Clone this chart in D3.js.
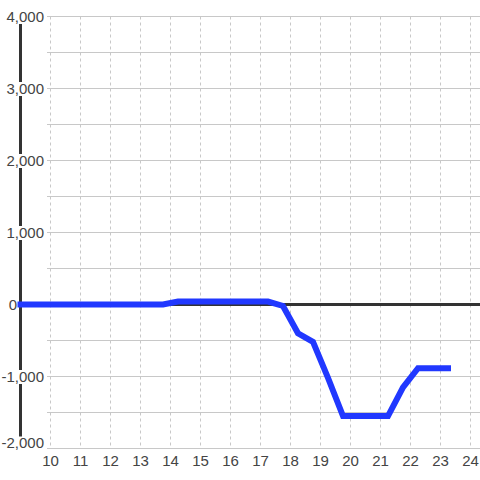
<!DOCTYPE html>
<html>
<head>
<meta charset="utf-8">
<script src="https://cdn.jsdelivr.net/npm/d3@7"></script>
<style>
  body { margin: 0; background: #fff; }
  svg { display: block; }
</style>
</head>
<body>
<svg id="chart" width="480" height="480"></svg>
<script>
const hours = [9, 13.75, 14.25, 17.25, 17.75, 18.25, 18.75, 19.25, 19.75, 21.25, 21.75, 22.25, 23.25];
const values = [0, 0, 40, 40, -20, -400, -520, -1020, -1550, -1550, -1150, -885, -885];
const xTicks = [10, 11, 12, 13, 14, 15, 16, 17, 18, 19, 20, 21, 22, 23, 24];
const yTicks = [4000, 3000, 2000, 1000, 0, -1000, -2000];
const yGrid = d3.range(-2000, 4001, 500);

const svg = d3.select("#chart");
const font = "'Liberation Sans', Arial, sans-serif";

const x = d3.scaleLinear().domain([9, 24.3]).range([20.5, 479.5]);
const y = d3.scaleLinear().domain([-2000, 4000]).range([448.5, 16.5]);

// horizontal grid
svg.append("g").selectAll("line").data(yGrid).join("line")
  .attr("x1", 47).attr("x2", 480)
  .attr("y1", (d) => y(d)).attr("y2", (d) => y(d))
  .attr("stroke", "#c8c8c8").attr("stroke-width", 1);

// vertical dotted grid
svg.append("g").selectAll("line").data(xTicks).join("line")
  .attr("x1", (d) => x(d)).attr("x2", (d) => x(d))
  .attr("y1", y(4000)).attr("y2", y(-2000))
  .attr("stroke", "#c8c8c8").attr("stroke-width", 1)
  .attr("stroke-dasharray", "3,3");

// zero line
svg.append("line")
  .attr("x1", x(9)).attr("x2", 480)
  .attr("y1", y(0)).attr("y2", y(0))
  .attr("stroke", "#333").attr("stroke-width", 3);

// y axis line
svg.append("line")
  .attr("x1", x(9)).attr("x2", x(9))
  .attr("y1", y(4000)).attr("y2", y(-2000))
  .attr("stroke", "#333").attr("stroke-width", 3);

// y labels with white boxes over the axis (the 0 label sits left of the axis)
const fmt = d3.format(",");
const labelY = (d) => Math.min(y(d), 443);
const labelX = (d) => (d === 0 ? 17 : 44);
const yl = svg.append("g");
yl.selectAll("rect").data(yTicks).join("rect")
  .attr("x", (d) => (d === 0 ? 6 : 0))
  .attr("width", (d) => (d === 0 ? 11 : 46))
  .attr("y", (d) => labelY(d) - 6.5).attr("height", 14)
  .attr("fill", "#fff");
yl.selectAll("text").data(yTicks).join("text")
  .attr("x", labelX).attr("y", labelY).attr("dy", "0.36em")
  .attr("text-anchor", "end")
  .attr("font-family", font).attr("font-size", 15)
  .attr("fill", "#444")
  .text((d) => fmt(d).replace("−", "-"));

// x labels
svg.append("g").selectAll("text").data(xTicks).join("text")
  .attr("x", (d) => x(d)).attr("y", 466)
  .attr("text-anchor", "middle")
  .attr("font-family", font).attr("font-size", 15)
  .attr("fill", "#444")
  .text((d) => d);

// series
const line = d3.line().x((d) => x(d[0])).y((d) => y(d[1]));
svg.append("path")
  .datum(hours.map((h, i) => [h, values[i]]))
  .attr("d", line)
  .attr("fill", "none")
  .attr("stroke", "#2138ff")
  .attr("stroke-width", 6)
  .attr("stroke-linecap", "square");
</script>
</body>
</html>
